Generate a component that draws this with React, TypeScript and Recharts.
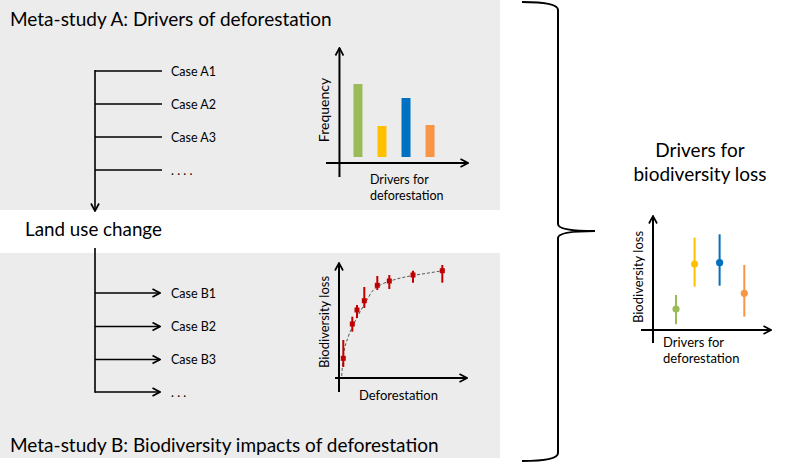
import React from "react";
import {
  ComposedChart,
  Bar,
  Cell,
  Scatter,
  Line,
  ErrorBar,
  XAxis,
  YAxis,
  ReferenceLine,
} from "recharts";

const FONT = "Lato, 'Open Sans', sans-serif";

// Meta-study A: how often each driver is reported
const driverNames = ["Driver 1", "Driver 2", "Driver 3", "Driver 4"];
const driverColors = ["#9BBB59", "#FFC000", "#0070C0", "#F79646"];
const driverFrequency = [7.3, 3.1, 5.9, 3.2];

// Meta-study B: biodiversity loss against deforestation, with error ranges
const deforestation = [0.43, 1.33, 1.8, 2.53, 3.83, 5.03, 7.4, 10.33];
const biodivLoss = [1.97, 5.4, 6.8, 7.73, 9.27, 9.7, 10.3, 10.73];
const biodivLow = [1.1, 4.63, 6.0, 7.0, 8.8, 8.9, 9.53, 9.53];
const biodivHigh = [3.8, 6.13, 7.3, 9.1, 10.2, 10.3, 10.73, 11.3];

// dashed fitted curve
const fitX = [0.27, 0.43, 0.93, 1.43, 1.93, 2.6, 3.43, 4.27, 5.43, 7.1, 8.77, 10.77];
const fitY = [0.2, 2.13, 4.13, 5.3, 6.3, 7.47, 8.8, 9.37, 9.8, 10.2, 10.47, 10.8];

// Synthesis: biodiversity loss per driver
const driverPos = [2.3, 4.16, 6.66, 9.13];
const driverLoss = [2.1, 6.6, 6.73, 3.67];
const driverLossLow = [0.57, 4.33, 4.43, 1.33];
const driverLossHigh = [3.5, 9.23, 9.57, 6.5];

const caseA = ["Case A1", "Case A2", "Case A3", ". . . ."];
const caseB = ["Case B1", "Case B2", "Case B3", ". . ."];

const barData = driverNames.map((name, i) => ({
  name,
  x: i + 1,
  v: driverFrequency[i],
}));

const studyB = deforestation.map((x, i) => ({
  x,
  y: biodivLoss[i],
  err: [biodivLoss[i] - biodivLow[i], biodivHigh[i] - biodivLoss[i]],
}));

const fitData = fitX.map((x, i) => ({ x, y: fitY[i] }));

const synthesis = driverNames.map((name, i) => ({
  name,
  color: driverColors[i],
  points: [
    {
      x: driverPos[i],
      y: driverLoss[i],
      err: [driverLoss[i] - driverLossLow[i], driverLossHigh[i] - driverLoss[i]],
    },
  ],
}));

const arrowLine = (p: any) => (
  <line
    x1={p.x1}
    y1={p.y1}
    x2={p.x2}
    y2={p.y2}
    stroke="#000"
    strokeWidth={2}
    markerEnd="url(#arrowHead)"
  />
);

const PAD = 6;
const margin = { top: PAD, right: PAD, bottom: PAD, left: PAD };

function FrequencyChart() {
  return (
    <div style={{ position: "absolute", left: 326 - PAD, top: 48 - PAD }}>
      <ComposedChart width={142 + 2 * PAD} height={129 + 2 * PAD} data={barData} margin={margin}>
        <XAxis type="number" dataKey="x" domain={[-0.31, 5.6]} hide allowDataOverflow />
        <YAxis type="number" domain={[-2, 10.9]} hide allowDataOverflow />
        <Bar dataKey="v" barSize={9} isAnimationActive={false}>
          {barData.map((d, i) => (
            <Cell key={d.name} fill={driverColors[i]} />
          ))}
        </Bar>
        <ReferenceLine
          segment={[{ x: 0.25, y: -2 }, { x: 0.25, y: 10.9 }]}
          ifOverflow="visible"
          shape={arrowLine}
        />
        <ReferenceLine
          segment={[{ x: -0.31, y: -0.6 }, { x: 5.6, y: -0.6 }]}
          ifOverflow="visible"
          shape={arrowLine}
        />
      </ComposedChart>
    </div>
  );
}

function ImpactChart() {
  return (
    <div style={{ position: "absolute", left: 335 - PAD, top: 263 - PAD }}>
      <ComposedChart width={132 + 2 * PAD} height={129 + 2 * PAD} margin={margin}>
        <XAxis type="number" dataKey="x" domain={[-0.4, 12.8]} hide allowDataOverflow />
        <YAxis type="number" dataKey="y" domain={[-1.4, 11.5]} hide allowDataOverflow />
        <ReferenceLine
          segment={[{ x: 0, y: -1.4 }, { x: 0, y: 11.5 }]}
          ifOverflow="visible"
          shape={arrowLine}
        />
        <ReferenceLine
          segment={[{ x: -0.4, y: 0 }, { x: 12.8, y: 0 }]}
          ifOverflow="visible"
          shape={arrowLine}
        />
        <Line
          data={fitData}
          dataKey="y"
          type="monotone"
          stroke="#555"
          strokeWidth={1}
          strokeDasharray="3 2"
          dot={false}
          isAnimationActive={false}
        />
        <Scatter
          data={studyB}
          dataKey="y"
          fill="#C00000"
          isAnimationActive={false}
          shape={(p: any) => (
            <rect x={p.cx - 2.5} y={p.cy - 2.5} width={5} height={5} fill="#C00000" />
          )}
        >
          <ErrorBar dataKey="err" direction="y" width={0} stroke="#C00000" strokeWidth={2} />
        </Scatter>
      </ComposedChart>
    </div>
  );
}

function SynthesisChart() {
  return (
    <div style={{ position: "absolute", left: 640.7 - PAD, top: 216 - PAD }}>
      <ComposedChart width={130 + 2 * PAD} height={127 + 2 * PAD} margin={margin}>
        <XAxis type="number" dataKey="x" domain={[-1.2, 11.8]} hide allowDataOverflow />
        <YAxis type="number" dataKey="y" domain={[-1.3, 11.4]} hide allowDataOverflow />
        <ReferenceLine
          segment={[{ x: 0, y: -1.3 }, { x: 0, y: 11.4 }]}
          ifOverflow="visible"
          shape={arrowLine}
        />
        <ReferenceLine
          segment={[{ x: -1.2, y: 0 }, { x: 11.8, y: 0 }]}
          ifOverflow="visible"
          shape={arrowLine}
        />
        {synthesis.map((s) => (
          <Scatter
            key={s.name}
            name={s.name}
            data={s.points}
            dataKey="y"
            fill={s.color}
            isAnimationActive={false}
            shape={(p: any) => <circle cx={p.cx} cy={p.cy} r={3.6} fill={s.color} />}
          >
            <ErrorBar dataKey="err" direction="y" width={0} stroke={s.color} strokeWidth={2} />
          </Scatter>
        ))}
      </ComposedChart>
    </div>
  );
}

function Diagram() {
  const aRows = [71, 104, 137, 170];
  const bRows = [293, 326.5, 359.5, 392];
  return (
    <svg
      width={793}
      height={463}
      style={{ position: "absolute", left: 0, top: 0 }}
      fontFamily={FONT}
    >
      <defs>
        <marker
          id="arrowHead"
          viewBox="0 0 10 10"
          refX={9}
          refY={5}
          markerWidth={10}
          markerHeight={10}
          markerUnits="userSpaceOnUse"
          orient="auto"
        >
          <path d="M1.5,1 L9,5 L1.5,9" fill="none" stroke="#000" strokeWidth={1.7} />
        </marker>
      </defs>
      <rect x={0} y={0} width={500} height={210} fill="#ECECEC" />
      <rect x={0} y={253} width={500} height={205} fill="#ECECEC" />

      <text x={10} y={26} fontSize={19}>Meta-study A: Drivers of deforestation</text>
      <text x={25} y={236} fontSize={18.8}>Land use change</text>
      <text x={10} y={452} fontSize={19}>Meta-study B: Biodiversity impacts of deforestation</text>

      <line x1={95} y1={70} x2={95} y2={211} stroke="#000" strokeWidth={1.6} markerEnd="url(#arrowHead)" />
      {aRows.map((y, i) => (
        <g key={caseA[i]}>
          <line x1={95} y1={y} x2={162} y2={y} stroke="#000" strokeWidth={1.6} />
          <text x={171} y={y + 4.5} fontSize={12.5}>{caseA[i]}</text>
        </g>
      ))}

      <line x1={95} y1={248} x2={95} y2={392.8} stroke="#000" strokeWidth={1.6} />
      {bRows.map((y, i) => (
        <g key={caseB[i]}>
          <line x1={95} y1={y} x2={160} y2={y} stroke="#000" strokeWidth={1.6} markerEnd="url(#arrowHead)" />
          <text x={171} y={y + 4.5} fontSize={12.5}>{caseB[i]}</text>
        </g>
      ))}

      <path
        d="M522,2 Q558,2 558,10 L558,224 Q558,231 595,231 Q558,231 558,238 L558,453 Q558,461 522,461"
        fill="none"
        stroke="#000"
        strokeWidth={2}
      />

      <text x={323} y={110} fontSize={14} textAnchor="middle" dominantBaseline="central" transform="rotate(-90 323 110)">
        Frequency
      </text>
      <text x={370} y={183.5} fontSize={12.5}>Drivers for</text>
      <text x={370} y={199.5} fontSize={12.5}>deforestation</text>

      <text x={324} y={322} fontSize={13} textAnchor="middle" dominantBaseline="central" transform="rotate(-90 324 322)">
        Biodiversity loss
      </text>
      <text x={359} y={400} fontSize={13}>Deforestation</text>

      <text x={700} y={157} fontSize={19} textAnchor="middle">Drivers for</text>
      <text x={700} y={181} fontSize={19} textAnchor="middle">biodiversity loss</text>

      <text x={638} y={277} fontSize={13} textAnchor="middle" dominantBaseline="central" transform="rotate(-90 638 277)">
        Biodiversity loss
      </text>
      <text x={663} y={347.3} fontSize={13}>Drivers for</text>
      <text x={663} y={363.3} fontSize={13}>deforestation</text>
    </svg>
  );
}

export default function App() {
  return (
    <div style={{ position: "absolute", left: 0, top: 0, width: 793, height: 463, background: "#fff" }}>
      <Diagram />
      <FrequencyChart />
      <ImpactChart />
      <SynthesisChart />
    </div>
  );
}
